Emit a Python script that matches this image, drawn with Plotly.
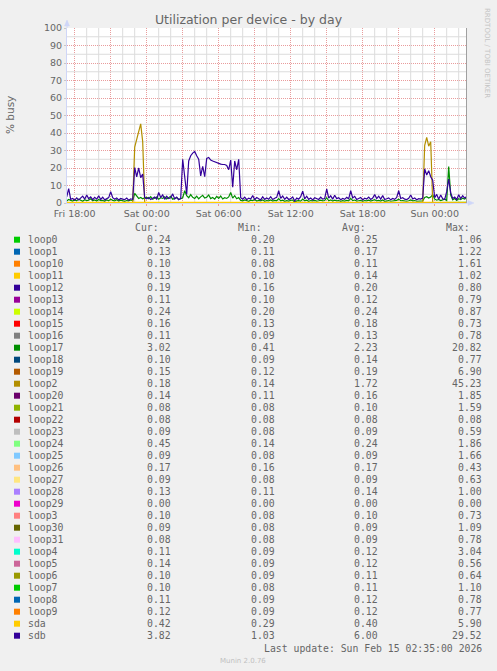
"""
Munin style 'Utilization per device - by day' graph rebuilt with Plotly.
"""
import pandas as pd
import plotly.graph_objects as go

# ---------------------------------------------------------------- data
# 10 minute samples, starting Fri 2026-02-13 17:20
sdb = [
    3.5, 8.2, 2.1, 2.6, 1.6, 2.9, 1.8, 2.7, 3.9, 2.2,
    4.6, 2.4, 3.5, 1.9, 3.2, 2.2, 4.1, 2.0, 3.3, 1.8,
    2.7, 3.1, 6.4, 3.0, 2.1, 2.9, 1.7, 2.6, 2.2, 1.9,
    2.8, 1.6, 2.4, 2.0, 20.2, 15.0, 20.0, 14.5, 16.5, 3.0,
    2.4, 3.1, 2.0, 2.7, 3.4, 2.2, 6.0, 3.2, 4.6, 2.1,
    3.8, 2.5, 3.0, 5.2, 2.3, 3.4, 1.9, 2.6, 25.0, 15.0,
    5.0, 24.0, 27.0, 28.5, 29.5, 27.0, 25.0, 15.5, 21.0, 15.0,
    25.5, 26.0, 24.5, 24.0, 23.5, 23.0, 22.5, 22.2, 22.0, 22.0,
    21.5, 19.0, 24.5, 9.0, 24.0, 19.0, 25.0, 3.0, 2.2, 3.4,
    1.9, 2.8, 2.3, 4.2, 2.0, 3.1, 2.4, 1.8, 3.5, 2.1,
    2.9, 2.2, 3.6, 2.0, 2.7, 3.2, 7.0, 2.6, 4.0, 2.1,
    3.3, 2.0, 2.5, 3.4, 1.1, 2.8, 2.2, 3.6, 6.8, 2.4,
    3.9, 2.1, 2.8, 1.8, 3.0, 2.4, 2.0, 3.3, 2.2, 2.6,
    8.0, 2.8, 4.1, 2.2, 4.4, 2.5, 3.0, 1.9, 2.6, 2.1,
    3.2, 2.4, 7.0, 2.9, 3.8, 2.0, 2.6, 3.1, 1.8, 2.7,
    2.3, 3.4, 2.0, 2.8, 4.8, 2.5, 3.9, 2.2, 4.2, 2.0,
    2.4, 2.9, 1.8, 2.6, 2.1, 3.2, 7.0, 2.6, 3.0, 2.2,
    2.0, 2.7, 4.6, 2.3, 2.9, 1.9, 2.5, 2.2, 2.8, 19.5,
    16.0, 18.5, 15.0, 13.0, 3.0, 4.9, 2.1, 4.6, 2.4, 2.0,
    6.5, 13.7, 5.8, 2.6, 3.4, 2.0, 4.7, 2.5, 4.2, 2.8,
    3.8,
]

loop17 = [
    1.2, 2.0, 1.5, 1.1, 1.8, 1.3, 2.2, 1.4, 1.0, 1.9,
    1.3, 1.6, 2.4, 1.2, 1.7, 1.1, 2.0, 1.4, 1.5, 1.0,
    1.8, 1.3, 2.2, 1.5, 1.2, 1.9, 1.1, 1.6, 1.3, 1.0,
    1.4, 1.2, 1.7, 1.3, 5.5, 3.8, 2.6, 3.2, 2.4, 2.9,
    3.2, 2.5, 3.6, 2.1, 2.8, 3.4, 2.2, 3.0, 2.6, 3.5,
    2.3, 2.9, 3.8, 2.2, 2.7, 3.1, 2.0, 2.5, 3.0, 7.0,
    4.2, 3.0, 4.8, 3.2, 2.6, 3.9, 2.4, 3.5, 4.4, 2.8,
    3.3, 4.6, 2.5, 3.1, 2.2, 3.8, 2.7, 4.0, 2.3, 3.0,
    2.6, 3.5, 6.0, 2.8, 4.2, 2.4, 3.1, 1.5, 1.2, 1.8,
    1.3, 1.0, 1.6, 1.4, 2.0, 1.1, 1.5, 1.2, 1.8, 1.0,
    1.4, 1.2, 1.7, 1.1, 1.5, 1.3, 2.5, 1.2, 1.6, 1.0,
    1.3, 1.1, 1.5, 1.7, 0.4, 1.2, 1.4, 1.1, 2.2, 1.3,
    1.6, 1.0, 1.4, 1.2, 1.5, 1.1, 1.3, 1.6, 1.2, 1.4,
    3.0, 1.3, 1.8, 1.1, 1.6, 1.2, 1.4, 1.0, 1.3, 1.1,
    1.5, 1.2, 2.6, 1.4, 1.7, 1.1, 1.3, 1.5, 1.0, 1.4,
    1.2, 1.6, 1.1, 1.3, 1.9, 1.2, 1.5, 1.1, 1.7, 1.0,
    1.3, 1.4, 1.0, 1.2, 1.1, 1.5, 2.2, 1.3, 1.4, 1.1,
    1.0, 1.3, 1.8, 1.2, 1.4, 1.0, 1.2, 1.1, 1.2, 3.2,
    3.6, 2.8, 3.4, 4.8, 2.2, 1.6, 2.0, 1.4, 1.8, 2.2,
    1.5, 20.8, 4.5, 1.8, 2.6, 1.5, 2.4, 1.9, 2.8, 2.2,
    3.0,
]

loop2 = [
    0.20, 0.18, 0.22, 0.17, 0.19, 0.21, 0.16, 0.20, 0.18, 0.19,
    0.21, 0.17, 0.19, 0.20, 0.16, 0.22, 0.18, 0.19, 0.17, 0.20,
    0.18, 0.21, 0.19, 0.16, 0.20, 0.18, 0.22, 0.17, 0.19, 0.18,
    0.20, 0.17, 0.19, 0.20, 32.0, 36.0, 41.0, 45.2, 35.0, 0.30,
    0.19, 0.17, 0.20, 0.18, 0.21, 0.16, 0.19, 0.20, 0.17, 0.18,
    0.21, 0.19, 0.16, 0.20, 0.18, 0.22, 0.17, 0.19, 0.20, 0.18,
    0.17, 0.21, 0.19, 0.18, 0.20, 0.16, 0.19, 0.21, 0.18, 0.17,
    0.20, 0.19, 0.18, 0.21, 0.17, 0.19, 0.20, 0.16, 0.18, 0.19,
    0.21, 0.17, 0.20, 0.18, 0.19, 0.22, 0.16, 0.18, 0.20, 0.17,
    0.19, 0.21, 0.18, 0.17, 0.20, 0.19, 0.16, 0.18, 0.21, 0.19,
    0.17, 0.20, 0.18, 0.19, 0.21, 0.16, 0.20, 0.18, 0.17, 0.19,
    0.20, 0.18, 0.21, 0.17, 0.19, 0.16, 0.20, 0.18, 0.19, 0.21,
    0.17, 0.18, 0.20, 0.19, 0.16, 0.21, 0.18, 0.19, 0.17, 0.20,
    0.18, 0.19, 0.21, 0.16, 0.20, 0.18, 0.17, 0.19, 0.20, 0.18,
    0.21, 0.17, 0.19, 0.18, 0.20, 0.16, 0.19, 0.21, 0.18, 0.17,
    0.20, 0.19, 0.14, 0.18, 0.21, 0.17, 0.20, 0.18, 0.19, 0.16,
    0.19, 0.21, 0.18, 0.17, 0.20, 0.19, 0.18, 0.16, 0.21, 0.18,
    0.19, 0.20, 0.17, 0.18, 0.21, 0.19, 0.16, 0.20, 0.18, 33.0,
    37.5, 32.5, 35.0, 0.30, 0.19, 0.17, 0.20, 0.18, 0.21, 0.16,
    0.19, 0.20, 0.18, 0.17, 0.21, 0.19, 0.16, 0.20, 0.18, 0.19,
    0.18,
]

# quiet devices: one sample every 200 minutes over the same window
loop0 = [0.24, 0.26, 0.25, 0.23, 0.27, 0.25, 0.24, 0.26, 0.25, 0.24, 0.24]
loop1 = [0.16, 0.18, 0.17, 0.15, 0.19, 0.17, 0.16, 0.18, 0.17, 0.15, 0.13]
loop10 = [0.11, 0.12, 0.10, 0.11, 0.12, 0.11, 0.10, 0.12, 0.11, 0.11, 0.10]
loop11 = [0.14, 0.15, 0.13, 0.14, 0.15, 0.14, 0.13, 0.15, 0.14, 0.14, 0.13]
loop12 = [0.20, 0.21, 0.19, 0.20, 0.21, 0.20, 0.19, 0.21, 0.20, 0.20, 0.19]
loop13 = [0.12, 0.13, 0.11, 0.12, 0.13, 0.12, 0.11, 0.13, 0.12, 0.12, 0.11]
loop14 = [0.24, 0.25, 0.23, 0.24, 0.25, 0.24, 0.23, 0.25, 0.24, 0.24, 0.24]
loop15 = [0.18, 0.19, 0.17, 0.18, 0.19, 0.18, 0.17, 0.19, 0.18, 0.18, 0.16]
loop16 = [0.13, 0.14, 0.12, 0.13, 0.14, 0.13, 0.12, 0.14, 0.13, 0.13, 0.11]
loop18 = [0.14, 0.15, 0.13, 0.14, 0.16, 0.14, 0.13, 0.15, 0.14, 0.13, 0.10]
loop19 = [0.19, 0.20, 0.18, 0.19, 0.21, 0.19, 0.18, 0.20, 0.19, 0.18, 0.15]
loop20 = [0.16, 0.17, 0.15, 0.16, 0.18, 0.16, 0.15, 0.17, 0.16, 0.15, 0.14]
loop21 = [0.10, 0.11, 0.09, 0.10, 0.11, 0.10, 0.09, 0.11, 0.10, 0.10, 0.08]
loop22 = [0.08, 0.08, 0.08, 0.08, 0.08, 0.08, 0.08, 0.08, 0.08, 0.08, 0.08]
loop23 = [0.09, 0.09, 0.08, 0.09, 0.10, 0.09, 0.08, 0.09, 0.09, 0.09, 0.09]
loop24 = [0.24, 0.22, 0.20, 0.25, 0.27, 0.23, 0.21, 0.24, 0.26, 0.30, 0.45]
loop25 = [0.09, 0.10, 0.08, 0.09, 0.10, 0.09, 0.08, 0.09, 0.09, 0.09, 0.09]
loop26 = [0.17, 0.17, 0.16, 0.17, 0.18, 0.17, 0.16, 0.17, 0.17, 0.17, 0.17]
loop27 = [0.09, 0.09, 0.08, 0.09, 0.10, 0.09, 0.08, 0.09, 0.09, 0.09, 0.09]
loop28 = [0.14, 0.15, 0.13, 0.14, 0.15, 0.14, 0.13, 0.15, 0.14, 0.14, 0.13]
loop29 = [0.00, 0.00, 0.00, 0.00, 0.00, 0.00, 0.00, 0.00, 0.00, 0.00, 0.00]
loop3 = [0.10, 0.11, 0.09, 0.10, 0.11, 0.10, 0.09, 0.11, 0.10, 0.10, 0.10]
loop30 = [0.09, 0.10, 0.08, 0.09, 0.10, 0.09, 0.08, 0.09, 0.09, 0.09, 0.09]
loop31 = [0.09, 0.09, 0.08, 0.09, 0.10, 0.09, 0.08, 0.09, 0.09, 0.09, 0.08]
loop4 = [0.12, 0.13, 0.11, 0.12, 0.13, 0.12, 0.11, 0.13, 0.12, 0.12, 0.11]
loop5 = [0.12, 0.13, 0.10, 0.12, 0.13, 0.12, 0.11, 0.13, 0.12, 0.12, 0.14]
loop6 = [0.11, 0.12, 0.10, 0.11, 0.12, 0.11, 0.10, 0.12, 0.11, 0.11, 0.10]
loop7 = [0.11, 0.12, 0.10, 0.11, 0.12, 0.11, 0.10, 0.12, 0.11, 0.11, 0.10]
loop8 = [0.12, 0.13, 0.11, 0.12, 0.13, 0.12, 0.11, 0.13, 0.12, 0.12, 0.11]
loop9 = [0.12, 0.13, 0.11, 0.12, 0.13, 0.12, 0.11, 0.13, 0.12, 0.12, 0.12]
sda = [0.39, 0.41, 0.38, 0.43, 0.40, 0.37, 0.42, 0.39, 0.41, 0.40, 0.42]

# legend table (munin order)
devices = ["loop0", "loop1", "loop10", "loop11", "loop12", "loop13", "loop14",
           "loop15", "loop16", "loop17", "loop18", "loop19", "loop2", "loop20",
           "loop21", "loop22", "loop23", "loop24", "loop25", "loop26", "loop27",
           "loop28", "loop29", "loop3", "loop30", "loop31", "loop4", "loop5",
           "loop6", "loop7", "loop8", "loop9", "sda", "sdb"]
colors = ["#00CC00", "#0066B3", "#FF8000", "#FFCC00", "#330099", "#990099",
          "#CCFF00", "#FF0000", "#808080", "#008F00", "#00487D", "#B35A00",
          "#B38F00", "#6B006B", "#8FB300", "#B30000", "#BEBEBE", "#80FF80",
          "#80C9FF", "#FFC080", "#FFE680", "#AA80FF", "#EE00CC", "#FF8080",
          "#666600", "#FFBFFF", "#00FFCC", "#CC6699", "#999900", "#00CC00",
          "#0066B3", "#FF8000", "#FFCC00", "#330099"]
cur_vals = [0.24, 0.13, 0.10, 0.13, 0.19, 0.11, 0.24, 0.16, 0.11, 3.02, 0.10,
            0.15, 0.18, 0.14, 0.08, 0.08, 0.09, 0.45, 0.09, 0.17, 0.09, 0.13,
            0.00, 0.10, 0.09, 0.08, 0.11, 0.14, 0.10, 0.10, 0.11, 0.12, 0.42,
            3.82]
min_vals = [0.20, 0.11, 0.08, 0.10, 0.16, 0.10, 0.20, 0.13, 0.09, 0.41, 0.09,
            0.12, 0.14, 0.11, 0.08, 0.08, 0.08, 0.14, 0.08, 0.16, 0.08, 0.11,
            0.00, 0.08, 0.08, 0.08, 0.09, 0.09, 0.09, 0.08, 0.09, 0.09, 0.29,
            1.03]
avg_vals = [0.25, 0.17, 0.11, 0.14, 0.20, 0.12, 0.24, 0.18, 0.13, 2.23, 0.14,
            0.19, 1.72, 0.16, 0.10, 0.08, 0.09, 0.24, 0.09, 0.17, 0.09, 0.14,
            0.00, 0.10, 0.09, 0.09, 0.12, 0.12, 0.11, 0.11, 0.12, 0.12, 0.40,
            6.00]
max_vals = [1.06, 1.22, 1.61, 1.02, 0.80, 0.79, 0.87, 0.73, 0.78, 20.82, 0.77,
            6.90, 45.23, 1.85, 1.59, 0.08, 0.59, 1.86, 1.66, 0.43, 0.63, 1.00,
            0.00, 0.73, 1.09, 0.78, 3.04, 0.56, 0.64, 1.10, 0.78, 0.77, 5.90,
            29.52]

x_tick_times = ["2026-02-13 18:00", "2026-02-13 21:00", "2026-02-14 00:00",
                "2026-02-14 03:00", "2026-02-14 06:00", "2026-02-14 09:00",
                "2026-02-14 12:00", "2026-02-14 15:00", "2026-02-14 18:00",
                "2026-02-14 21:00", "2026-02-15 00:00"]
x_tick_labels = ["Fri 18:00", "", "Sat 00:00", "", "Sat 06:00", "",
                 "Sat 12:00", "", "Sat 18:00", "", "Sun 00:00"]

fine_times = pd.date_range("2026-02-13 17:20", periods=len(sdb), freq="10min")
coarse_times = pd.date_range("2026-02-13 17:20", periods=len(sda), freq="200min")

series = {
    "loop0": loop0, "loop1": loop1, "loop10": loop10, "loop11": loop11,
    "loop12": loop12, "loop13": loop13, "loop14": loop14, "loop15": loop15,
    "loop16": loop16, "loop17": loop17, "loop18": loop18, "loop19": loop19,
    "loop2": loop2, "loop20": loop20, "loop21": loop21, "loop22": loop22,
    "loop23": loop23, "loop24": loop24, "loop25": loop25, "loop26": loop26,
    "loop27": loop27, "loop28": loop28, "loop29": loop29, "loop3": loop3,
    "loop30": loop30, "loop31": loop31, "loop4": loop4, "loop5": loop5,
    "loop6": loop6, "loop7": loop7, "loop8": loop8, "loop9": loop9,
    "sda": sda, "sdb": sdb,
}

# plotly prints "%a %H:%M" at every 3 h tick; blank the in-between ones
label_alias = {pd.Timestamp(t).strftime("%a %H:%M"): lab
               for t, lab in zip(x_tick_times, x_tick_labels)}

# ---------------------------------------------------------------- geometry
W, H = 497, 671
PL, PR, PT, PB = 67, 467, 28, 203      # plot box in pixels
FONT = "#666666"
MGRID = "#E99C9C"
GRID = "#DCDCDC"
AXIS = "#CFD6F8"
X_START, X_END = "2026-02-13 17:21:30", "2026-02-15 02:41:30"


def px(x):
    return (x - PL) / (PR - PL)


def py(y):
    return (PB - y) / (PB - PT)


fig = go.Figure()

# minor grid as thin traces so it sits under the data lines
for t in pd.date_range("2026-02-13 18:00", "2026-02-15 02:00", freq="1h"):
    if t.hour % 3:
        fig.add_trace(go.Scatter(x=[t, t], y=[0, 100], mode="lines",
                                 line=dict(color=GRID, width=1),
                                 hoverinfo="skip", showlegend=False))
for v in range(5, 100, 10):
    fig.add_trace(go.Scatter(x=[X_START, X_END], y=[v, v], mode="lines",
                             line=dict(color=GRID, width=1),
                             hoverinfo="skip", showlegend=False))

for name, color in zip(devices, colors):
    vals = series[name]
    xs = fine_times if len(vals) == len(fine_times) else coarse_times
    fig.add_trace(go.Scatter(
        x=xs, y=vals, mode="lines", name=name,
        line=dict(color=color, width=1.2),
        hoverinfo="skip", showlegend=False,
    ))

fig.update_layout(
    width=W, height=H, autosize=False,
    margin=dict(l=PL, r=W - PR, t=PT, b=H - PB, pad=0),
    paper_bgcolor="#F0F0F0", plot_bgcolor="#FFFFFF",
    font=dict(family="DejaVu Sans", size=9.5, color=FONT),
    title=dict(text="Utilization per device - by day", x=0.5, xanchor="center",
               y=1 - 19.5 / H, yanchor="middle", yref="container",
               font=dict(family="DejaVu Sans", size=12.5, color=FONT)),
    showlegend=False,
)

fig.update_xaxes(
    type="date", range=[X_START, X_END],
    tickmode="linear", tick0=x_tick_times[0], dtick=3 * 3600000,
    tickformat="%a %H:%M", labelalias=label_alias,
    ticks="outside", ticklen=2, tickcolor=MGRID,
    showgrid=True, gridcolor=MGRID, griddash="1px,1px", gridwidth=1,
    showline=True, linecolor=AXIS, linewidth=1,
    zeroline=False, fixedrange=True, layer="below traces",
    tickfont=dict(size=9.5, color=FONT),
)
fig.update_yaxes(
    range=[0, 100], tickmode="linear", tick0=0, dtick=10,
    ticks="outside", ticklen=2, tickcolor="#C8C8C8",
    showgrid=True, gridcolor=MGRID, griddash="1px,1px", gridwidth=1,
    showline=True, linecolor=AXIS, linewidth=1,
    zeroline=False, fixedrange=True, layer="below traces",
    tickfont=dict(size=9.5, color=FONT),
)

shapes = []
# axis arrows (left axis pointing up, bottom axis pointing right)
shapes.append(dict(type="line", xref="paper", yref="paper",
                   x0=px(PL), x1=px(PL), y0=py(PT), y1=py(21),
                   line=dict(color=AXIS, width=1)))
shapes.append(dict(type="path", xref="paper", yref="paper", fillcolor=AXIS,
                   line=dict(color=AXIS, width=0.5),
                   path=f"M {px(PL - 2.5)} {py(26)} L {px(PL + 2.5)} {py(26)} "
                        f"L {px(PL)} {py(20)} Z"))
shapes.append(dict(type="line", xref="paper", yref="paper",
                   x0=px(PR), x1=px(472), y0=py(PB), y1=py(PB),
                   line=dict(color=AXIS, width=1)))
shapes.append(dict(type="path", xref="paper", yref="paper", fillcolor=AXIS,
                   line=dict(color=AXIS, width=0.5),
                   path=f"M {px(468)} {py(PB - 2.5)} L {px(468)} {py(PB + 2.5)} "
                        f"L {px(474)} {py(PB)} Z"))
# grey right edge of the data area
shapes.append(dict(type="line", xref="paper", yref="paper",
                   x0=px(PR - 0.5), x1=px(PR - 0.5), y0=py(PT), y1=py(PB),
                   line=dict(color="#A0A0A0", width=1)))

annotations = []


def text(x, y, s, anchor="left", size=9.8, color=FONT, family="DejaVu Sans Mono",
         angle=0):
    annotations.append(dict(
        x=px(x), y=py(y), xref="paper", yref="paper", text=s, showarrow=False,
        xanchor=anchor, yanchor="middle", textangle=angle,
        font=dict(family=family, size=size, color=color), borderpad=0,
    ))


# y axis title and vertical watermark
text(10, 115, "% busy", anchor="center", size=10.5, family="DejaVu Sans", angle=-90)
text(487, 53, "RRDTOOL / TOBI OETIKER", anchor="center", size=7,
     color="#C4C4C4", family="DejaVu Sans", angle=90)

# legend table
ROW0, ROWH = 239.7, 12
text(159.5, 227.7, "Cur:", anchor="right")
text(263, 227.7, "Min:", anchor="right")
text(367, 227.7, "Avg:", anchor="right")
text(470.5, 227.7, "Max:", anchor="right")
for i, name in enumerate(devices):
    y = ROW0 + ROWH * i
    shapes.append(dict(type="rect", xref="paper", yref="paper",
                       x0=px(14), x1=px(20), y0=py(y - 3), y1=py(y + 3),
                       fillcolor=colors[i], line=dict(width=0)))
    text(26.5, y, name)
    text(172, y, f"{cur_vals[i]:.2f}", anchor="right")
    text(275.5, y, f"{min_vals[i]:.2f}", anchor="right")
    text(379, y, f"{avg_vals[i]:.2f}", anchor="right")
    text(483, y, f"{max_vals[i]:.2f}", anchor="right")

text(483, 648.3, "Last update: Sun Feb 15 02:35:00 2026", anchor="right")
text(243, 660.7, "Munin 2.0.76", anchor="center", size=7, color="#C0C0C0",
     family="DejaVu Sans")

fig.update_layout(shapes=shapes, annotations=annotations)

fig.write_html("out.html", config={"displayModeBar": False},
               post_script="document.body.style.margin='0px';")
